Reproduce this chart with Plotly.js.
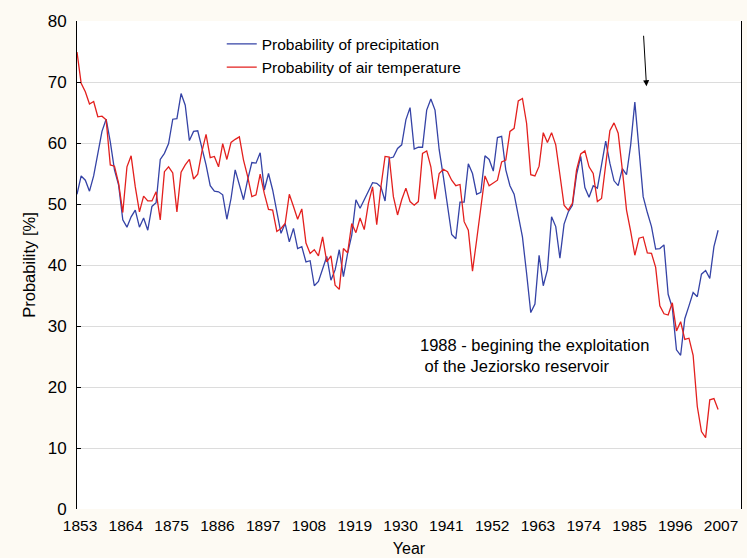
<!DOCTYPE html>
<html>
<head>
<meta charset="utf-8">
<script src="https://cdn.plot.ly/plotly-3.0.1.min.js"></script>
<style>html,body{margin:0;padding:0;background:#fdfaf3;}#chart{width:747px;height:558px;}</style>
</head>
<body>
<div id="chart"></div>
<script>
const startYear = 1853;

const precipitation = [
51.6,54.6,53.9,52.1,54.6,58.6,61.9,63.9,60.2,55.6,
53.1,47.4,46.2,47.9,49.0,46.2,47.7,45.7,49.6,50.2,
57.3,58.3,59.9,63.9,64.0,68.1,66.2,60.4,61.9,62.0,
59.4,56.4,53.0,52.1,52.0,51.5,47.5,50.9,55.6,53.1,
50.7,54.0,56.8,56.7,58.4,52.3,55.0,52.3,48.5,45.2,
46.8,43.8,46.0,42.7,43.0,40.5,40.7,36.6,37.3,39.5,
41.4,37.5,39.2,42.5,38.1,41.9,44.9,50.7,49.3,50.7,
52.0,53.5,53.4,52.8,50.5,57.5,57.7,59.1,59.7,63.8,
65.8,59.0,59.3,59.3,65.4,67.2,65.4,58.9,54.5,49.6,
45.0,44.3,50.3,50.3,56.6,55.0,51.6,51.9,57.9,57.3,
55.4,60.9,61.1,55.6,53.0,51.6,47.9,44.6,38.6,32.2,
33.6,41.6,36.6,39.2,47.9,46.3,41.1,46.7,48.7,49.8,
54.8,57.8,52.7,51.1,53.0,52.6,56.4,60.3,56.7,53.8,
53.0,55.8,54.8,59.7,66.7,59.4,51.2,48.6,46.3,42.6,
42.7,43.3,35.2,33.0,26.1,25.2,31.2,33.3,35.5,34.8,
38.5,39.1,37.8,43.0,45.7
];

const airTemperature = [
74.9,69.8,68.4,66.4,66.8,64.3,64.4,63.8,56.4,56.2,
53.4,48.6,56.1,57.9,52.8,48.7,51.3,50.5,50.5,52.0,
47.4,55.3,56.1,55.1,48.7,55.2,56.4,57.3,54.1,54.9,
58.6,61.4,57.6,57.8,56.1,59.9,57.3,60.1,60.6,61.0,
57.2,54.5,51.2,51.5,54.9,51.7,49.1,49.0,45.5,46.0,
46.8,51.6,49.6,47.5,49.2,43.6,41.9,42.5,41.5,44.6,
40.5,41.5,36.7,36.0,42.7,42.0,46.8,45.3,47.7,45.8,
50.1,52.8,46.6,52.8,57.8,57.7,51.2,48.2,50.7,52.6,
50.4,49.8,50.4,58.3,58.7,56.1,50.8,55.0,55.7,55.3,
53.9,53.0,53.2,47.1,45.7,39.0,44.1,49.7,54.6,53.0,
53.4,53.9,56.9,57.2,61.9,62.4,66.9,67.3,63.2,54.8,
54.6,56.2,61.7,60.1,61.7,59.7,54.8,49.8,49.0,50.1,
55.6,58.2,58.7,56.1,55.0,50.4,50.9,56.7,62.0,63.3,
61.6,55.6,49.0,45.5,41.6,44.4,44.6,42.0,41.9,39.6,
33.3,32.0,31.8,33.8,29.2,30.7,27.8,28.0,25.2,16.8,
12.7,11.7,17.9,18.1,16.3
];

const years = precipitation.map((_, i) => startYear + i);

const labelYears = [1853,1864,1875,1886,1897,1908,1919,1930,1941,1952,1963,1974,1985,1996,2007];
const gridYears = [1853,1860,1867,1874,1881,1888,1895,1902,1909,1916,1923,1930,1937,1944,1951,1958,1965,1972,1979,1986,1993,2000,2007];
const yTicks = [0,10,20,30,40,50,60,70,80];

const seriesNames = ['Probability of precipitation', 'Probability of air temperature'];
const noteText = '1988 - begining the exploitation<br> of the Jeziorsko reservoir';
const arrowYear = 1989.8;
const arrowValue = 69.3;

const FONT = '"Liberation Sans", Arial, sans-serif';
const xRange = [1853, 2012.5];

const traces = [
  {x: years, y: precipitation, name: seriesNames[0], type: 'scatter', mode: 'lines',
   xaxis: 'x2', yaxis: 'y', line: {color: '#3543a6', width: 1.3}},
  {x: years, y: airTemperature, name: seriesNames[1], type: 'scatter', mode: 'lines',
   xaxis: 'x2', yaxis: 'y', line: {color: '#e3201e', width: 1.3}}
];

const layout = {
  width: 747, height: 558,
  margin: {l: 77, r: 6, t: 21, b: 49},
  paper_bgcolor: '#fdfaf3',
  plot_bgcolor: '#ffffff',
  font: {family: FONT, size: 15, color: '#000'},
  showlegend: true,
  legend: {x: 0.218, y: 0.987, xanchor: 'left', yanchor: 'top', bgcolor: 'rgba(0,0,0,0)',
           font: {size: 15.5, family: FONT}, tracegroupgap: 0},
  xaxis: {range: xRange, tickmode: 'array', tickvals: gridYears, showticklabels: false,
          showgrid: true, gridcolor: '#dcdcdc', gridwidth: 1, zeroline: false,
          ticks: 'inside', ticklen: 4, tickcolor: '#000',
          showline: true, linecolor: '#000', linewidth: 1, mirror: true},
  xaxis2: {range: xRange, overlaying: 'x', side: 'bottom', tickmode: 'array', tickvals: labelYears,
           ticktext: labelYears.map(String), showgrid: false, zeroline: false, ticks: '',
           showline: false, tickfont: {size: 15.5, family: FONT}, ticklabelstandoff: 5,
           ticklabelshift: 3,
           title: {text: 'Year', font: {size: 16, family: FONT}, standoff: 10}},
  yaxis: {range: [0, 80], tickmode: 'array', tickvals: yTicks, showgrid: true, gridcolor: '#dcdcdc',
          zeroline: false, ticks: 'inside', ticklen: 4, tickcolor: '#000', ticklabelstandoff: 6,
          showline: true, linecolor: '#000', linewidth: 1, mirror: true,
          tickfont: {size: 17, family: FONT},
          title: {text: 'Probability [%]', font: {size: 16.5, family: FONT}, standoff: 7}},
  annotations: [
    {xref: 'paper', yref: 'paper', x: 0.5136, y: 0.358, xanchor: 'left', yanchor: 'top',
     text: noteText, showarrow: false, align: 'left', font: {size: 16.5, family: FONT}},
    {xref: 'x2', yref: 'y', x: arrowYear, y: arrowValue, ax: -3, ay: -52, text: '',
     showarrow: true, arrowhead: 2, arrowsize: 1.2, arrowwidth: 1, arrowcolor: '#000'}
  ]
};

Plotly.newPlot('chart', traces, layout, {staticPlot: true, displayModeBar: false});
</script>
</body>
</html>
